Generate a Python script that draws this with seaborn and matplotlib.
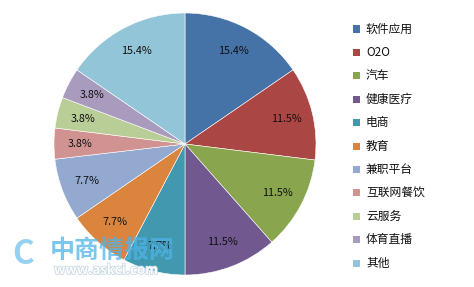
import matplotlib
matplotlib.use("Agg")
import matplotlib.pyplot as plt
import matplotlib.patheffects as pe
import seaborn as sns
from matplotlib.patches import Rectangle

categories = ["软件应用", "O2O", "汽车", "健康医疗", "电商", "教育",
              "兼职平台", "互联网餐饮", "云服务", "体育直播", "其他"]
values = [15.4, 11.5, 11.5, 11.5, 7.7, 7.7, 7.7, 3.8, 3.8, 3.8, 15.4]
colors = ["#4572A7", "#AA4643", "#89A54E", "#71588F", "#4198AF", "#DB843D",
          "#93A9CF", "#D19392", "#B9CD96", "#A99BBD", "#92C5D7"]

sns.set_theme(style="white")
plt.rcParams['font.family'] = ['Noto Sans CJK SC', 'DejaVu Sans']

palette = sns.color_palette(colors)

fig = plt.figure(figsize=(4.74, 2.87), dpi=100)
W, H = 474, 287
cx, cy, r = 185, 144, 131
ax = fig.add_axes([(cx - r) / W, (H - cy - r) / H, 2 * r / W, 2 * r / H])

wedges, texts, autotexts = ax.pie(
    values, colors=palette, startangle=90, counterclock=False,
    autopct='%.1f%%', pctdistance=0.8,
    wedgeprops=dict(edgecolor='white', linewidth=0.4),
    textprops=dict(fontsize=7.8, color='#111111'))
ax.set_aspect('equal')
ax.set_xlim(-1, 1)
ax.set_ylim(-1, 1)

# legend (manual layout to match row pitch)
y0, pitch = 29, 23.4
for i, (lab, col) in enumerate(zip(categories, palette)):
    y = y0 + i * pitch
    fig.patches.append(Rectangle((353 / W, 1 - (y + 3.5) / H), 7 / W, 7 / H,
                                 transform=fig.transFigure, facecolor=col,
                                 edgecolor='none'))
    fig.text(366 / W, 1 - y / H, lab, fontsize=8.5, color='#111111',
             va='center', ha='left')

# watermark
fig.text(50 / W, 1 - 251 / H, "中商情报网", fontsize=18, color='#4FB3E8',
         alpha=0.75, fontweight='bold', va='center', ha='left')
fig.text(54 / W, 1 - 270 / H, "www.askci.com", fontsize=9.5, color='white',
         alpha=0.95, fontweight='bold', va='center', ha='left',
         path_effects=[pe.withStroke(linewidth=1.2, foreground='#C8D8E4')])
fig.text(12 / W, 1 - 254 / H, "C", fontsize=24, color='#4FB3E8', alpha=0.6,
         fontweight='bold', va='center', ha='left')

fig.savefig("out.png", dpi=100)
